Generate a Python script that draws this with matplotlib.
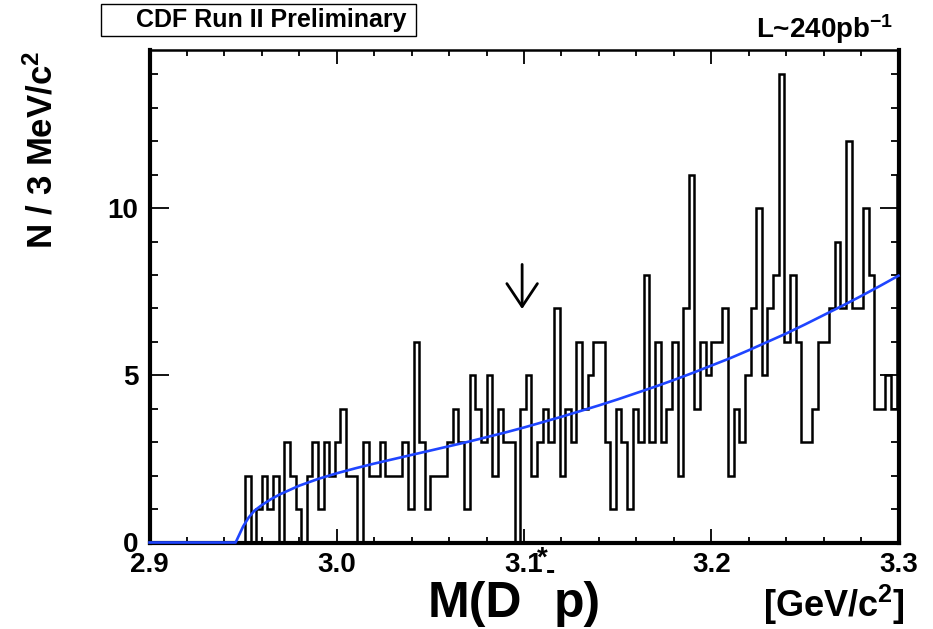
import numpy as np
import matplotlib
matplotlib.use("Agg")
import matplotlib.pyplot as plt
from matplotlib.patches import Rectangle

# =========================
# Fonts
# =========================
plt.rcParams["font.family"] = ["Liberation Sans", "DejaVu Sans"]
plt.rcParams["font.weight"] = "bold"
plt.rcParams["mathtext.fontset"] = "custom"
plt.rcParams["mathtext.rm"] = "Liberation Sans:bold"
plt.rcParams["mathtext.it"] = "Liberation Sans:bold"
plt.rcParams["mathtext.bf"] = "Liberation Sans:bold"

# =========================
# Data: M(D*- p), 3 MeV bins starting at 2.9 GeV
# =========================
bin_start = 2.9
bin_width = 0.003
counts = [
    0, 0, 0, 0, 0, 0, 0, 0, 0, 0, 0, 0, 0, 0, 0, 0, 0,
    2, 0, 1, 2, 1, 2, 0, 3, 2, 1, 0, 2, 3, 1, 3, 2, 3, 4,
    2, 2, 0, 3, 2, 2, 3, 2, 2, 2, 3, 1, 6, 3, 1, 2, 2, 2,
    3, 4, 3, 1, 5, 4, 3, 5, 2, 4, 3, 3, 0, 4, 5, 2, 3, 4,
    3, 7, 2, 4, 3, 6, 4, 5, 6, 6, 3, 1, 4, 3, 1, 4, 3, 8,
    3, 6, 3, 4, 6, 2, 7, 11, 4, 6, 5, 6, 6, 7, 2, 4, 3, 5,
    7, 10, 5, 7, 8, 14, 6, 8, 6, 3, 3, 4, 6, 6, 7, 9, 7, 12,
    7, 7, 10, 8, 4, 4, 5, 4, 11,
]

# background fit curve
fit_x = [2.900, 2.946, 2.950, 2.953, 2.956, 2.960, 2.965, 2.970, 2.980,
         2.990, 3.000, 3.010, 3.020, 3.030, 3.040, 3.050, 3.060, 3.070,
         3.080, 3.090, 3.100, 3.110, 3.120, 3.130, 3.140, 3.150, 3.160,
         3.170, 3.180, 3.190, 3.200, 3.210, 3.220, 3.230, 3.240, 3.250,
         3.260, 3.270, 3.280, 3.290, 3.300]
fit_y = [0.0, 0.0, 0.48, 0.75, 0.95, 1.12, 1.30, 1.45, 1.70,
         1.90, 2.07, 2.22, 2.36, 2.49, 2.62, 2.75, 2.88, 3.01,
         3.15, 3.29, 3.44, 3.60, 3.76, 3.93, 4.10, 4.28, 4.47,
         4.66, 4.86, 5.07, 5.29, 5.51, 5.75, 6.00, 6.25, 6.52,
         6.80, 7.08, 7.37, 7.67, 7.98]

arrow_mass = 3.099
arrow_top, arrow_tip = 8.4, 6.9

edges = bin_start + bin_width * np.arange(len(counts) + 1)

# =========================
# Plot
# =========================
W, H = 933, 629
fig = plt.figure(figsize=(W / 100, H / 100), dpi=100)
ax = fig.add_axes([149.5 / W, (H - 542.5) / H, 749 / W, 492.5 / H])

ax.stairs(counts, edges, color="black", linewidth=1.8, baseline=0)
# fit drawn above the frame so the flat part shows on the x axis
ax.plot(fit_x, fit_y, color="#1f45ff", linewidth=1.9, zorder=3,
        clip_on=False)

ax.annotate(
    "", xy=(arrow_mass, arrow_tip), xytext=(arrow_mass, arrow_top),
    arrowprops=dict(arrowstyle="->,head_length=0.75,head_width=0.5",
                    mutation_scale=22, lw=2, color="black"),
)

# =========================
# Axis formatting
# =========================
ax.set_xlim(2.9, 3.3)
ax.set_ylim(0, 14.73)

ax.set_xticks([2.9, 3.0, 3.1, 3.2, 3.3])
ax.set_xticklabels(["2.9", "3.0", "3.1", "3.2", "3.3"])
ax.set_xticks(np.arange(2.9, 3.301, 0.02), minor=True)
ax.set_yticks([0, 5, 10])
ax.set_yticks(np.arange(0, 15), minor=True)

ax.tick_params(which="both", direction="in", top=True, right=True,
               labelsize=20, width=1.3)
ax.tick_params(axis="x", which="major", length=10, pad=7)
ax.tick_params(axis="x", which="minor", length=4.3)
ax.tick_params(axis="y", which="major", length=13.7, pad=8)
ax.tick_params(axis="y", which="minor", length=5.8)

for side in ["left", "bottom", "right"]:
    ax.spines[side].set_linewidth(3)
ax.spines["top"].set_linewidth(1.8)

# =========================
# Texts
# =========================
fig.text(42 / W, 1 - 150 / H, "N / 3 MeV/c$^{2}$", rotation=90,
         ha="center", va="center", fontsize=25, fontweight="bold")

fig.text(428 / W, 1 - 617 / H, "M(D", fontsize=36, fontweight="bold",
         ha="left", va="baseline")
fig.text(537 / W, 1 - 566 / H, "*", fontsize=20, fontweight="bold",
         ha="left", va="baseline")
fig.text(546 / W, 1 - 579 / H, "-", fontsize=20, fontweight="bold",
         ha="left", va="baseline")
fig.text(554 / W, 1 - 617 / H, "p)", fontsize=36, fontweight="bold",
         ha="left", va="baseline")

fig.text(905 / W, 1 - 617 / H, "[GeV/c$^{2}$]", fontsize=26,
         fontweight="bold", ha="right", va="baseline")

fig.text(893 / W, 1 - 38 / H, "L~240pb$^{-1}$", fontsize=20,
         fontweight="bold", ha="right", va="baseline")

fig.patches.append(Rectangle((101 / W, 1 - 36 / H), 315 / W, 32 / H,
                             transform=fig.transFigure, fill=False,
                             edgecolor="black", linewidth=1))
fig.text(271 / W, 1 - 20 / H, "CDF Run II Preliminary", fontsize=18,
         fontweight="bold", ha="center", va="center")

fig.savefig("out.png", dpi=100)
